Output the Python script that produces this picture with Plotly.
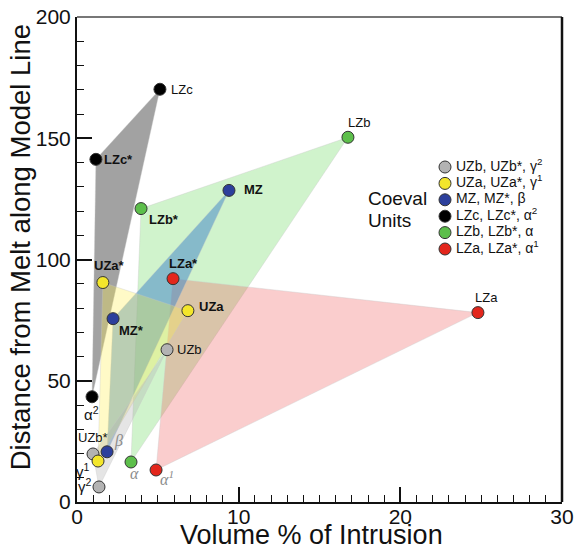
import plotly.graph_objects as go

# ---------------- data ----------------
units = ["UZb", "UZa", "MZ", "LZc", "LZb", "LZa"]
legend_labels = ["UZb, UZb*, γ<sup>2</sup>", "UZa, UZa*, γ<sup>1</sup>", "MZ, MZ*, β",
                 "LZc, LZc*, α<sup>2</sup>", "LZb, LZb*, α", "LZa, LZa*, α<sup>1</sup>"]
main_labels = ["UZb", "UZa", "MZ", "LZc", "LZb", "LZa"]
star_labels = ["UZb*", "UZa*", "MZ*", "LZc*", "LZb*", "LZa*"]
greek_labels = ["γ<sup>2</sup>", "γ<sup>1</sup>", "β", "α<sup>2</sup>", "α", "α<sup>1</sup>"]

x_main = [5.57, 6.86, 9.4, 5.13, 16.76, 24.8]
y_main = [62.8, 78.9, 128.5, 170.2, 150.4, 78.1]
x_star = [0.99, 1.6, 2.23, 1.17, 3.96, 5.94]
y_star = [19.8, 90.5, 75.6, 141.3, 121.0, 92.1]
x_greek = [1.36, 1.3, 1.86, 0.93, 3.34, 4.89]
y_greek = [6.2, 16.9, 20.7, 43.4, 16.5, 13.2]

x_title = "Volume % of Intrusion"
y_title = "Distance from Melt along Model Line"

# ---------------- styles ----------------
marker_colors = ["#b3b3b3", "#f3e62b", "#2c3f9c", "#000000", "#5dbf4b", "#e3261c"]
fill_colors = ["rgba(175,175,175,0.33)", "rgba(255,240,70,0.30)", "rgba(60,130,200,0.50)",
               "rgba(105,105,105,0.62)", "rgba(120,220,110,0.35)", "rgba(240,90,90,0.30)"]
poly_order = [3, 4, 5, 2, 1, 0]
FONT = "Liberation Sans, Arial, sans-serif"

# label placement: (xanchor, yanchor, xshift, yshift, flag)
main_pos = {"UZb": ("left", "middle", 8, 0, False), "UZa": ("left", "middle", 9, 4, True),
            "MZ": ("left", "middle", 13, 1, True), "LZc": ("left", "middle", 9, 0, False),
            "LZb": ("center", "bottom", 11, 5, False), "LZa": ("center", "bottom", 9, 6, False)}
star_pos = {"UZb*": ("center", "bottom", 0, 7, False), "UZa*": ("center", "bottom", 7, 8, True),
            "MZ*": ("left", "top", 4, -2, True), "LZc*": ("left", "middle", 6, 0, True),
            "LZb*": ("left", "top", 6, -1, True), "LZa*": ("center", "bottom", 10, 6, True)}
greek_pos = {0: ("right", "middle", -5, 1, False), 1: ("right", "top", -6, 2, False),
             2: ("left", "bottom", 5, 0, True), 3: ("center", "top", -1, -5, False),
             4: ("left", "top", -3, -1, True), 5: ("left", "top", 2, 4, True)}

fig = go.Figure()

# polygons
for i in poly_order:
    fig.add_trace(go.Scatter(
        x=[x_main[i], x_star[i], x_greek[i], x_main[i]],
        y=[y_main[i], y_star[i], y_greek[i], y_main[i]],
        mode="lines", fill="toself", fillcolor=fill_colors[i],
        line=dict(width=0.6, color="rgba(200,200,200,0.6)"),
        hoverinfo="skip", showlegend=False))

# points
for i in range(len(units)):
    fig.add_trace(go.Scatter(
        x=[x_main[i], x_star[i], x_greek[i]],
        y=[y_main[i], y_star[i], y_greek[i]],
        mode="markers",
        marker=dict(size=12, color=marker_colors[i], line=dict(width=1, color="#333333")),
        showlegend=False, name=units[i]))

annotations = []

def add_label(x, y, text, spec, size=13, grey_italic=False):
    xa, ya, xs, ys, flag = spec
    if grey_italic:
        t = "<i>" + text + "</i>"
        font = dict(family="Liberation Serif, Times New Roman, serif", size=16, color="#8c8c8c")
    else:
        t = "<b>" + text + "</b>" if flag else text
        font = dict(family=FONT, size=size, color="#111111")
    annotations.append(dict(x=x, y=y, xref="x", yref="y", text=t, showarrow=False,
                            xanchor=xa, yanchor=ya, xshift=xs, yshift=ys, font=font))

for i in range(len(units)):
    add_label(x_main[i], y_main[i], main_labels[i], main_pos[main_labels[i]])
    add_label(x_star[i], y_star[i], star_labels[i], star_pos[star_labels[i]])
    spec = greek_pos[i]
    add_label(x_greek[i], y_greek[i], greek_labels[i], spec, size=15, grey_italic=spec[4])

# legend drawn on an overlay pixel-like axis
leg_x0, leg_y0, leg_step = 445, 167, 16.4
leg_y = [leg_y0 + k * leg_step for k in range(len(units))]
fig.add_trace(go.Scatter(
    x=[leg_x0] * len(units), y=leg_y, xaxis="x2", yaxis="y2", mode="markers",
    marker=dict(size=12, color=marker_colors, line=dict(width=1, color="#333333")),
    showlegend=False, hoverinfo="skip", cliponaxis=False))
fig.add_trace(go.Scatter(
    x=[leg_x0 + 11] * len(units), y=leg_y, xaxis="x2", yaxis="y2",
    mode="text", text=legend_labels, textposition="middle right",
    textfont=dict(family=FONT, size=14, color="#111111"),
    showlegend=False, hoverinfo="skip", cliponaxis=False))

annotations.append(dict(x=366, y=198, xref="x2", yref="y2", text="Coeval", showarrow=False,
                        xanchor="left", yanchor="middle", font=dict(family=FONT, size=19, color="#111111")))
annotations.append(dict(x=366, y=220, xref="x2", yref="y2", text="Units", showarrow=False,
                        xanchor="left", yanchor="middle", font=dict(family=FONT, size=19, color="#111111")))

# axis titles
annotations.append(dict(x=0.484, y=-0.103, xref="paper", yref="paper", text=x_title, showarrow=False,
                        xanchor="center", yanchor="bottom",
                        font=dict(family=FONT, size=27, color="#111111")))
annotations.append(dict(x=-0.116, y=0.5247, xref="paper", yref="paper", text=y_title, showarrow=False,
                        xanchor="center", yanchor="middle", textangle=-90,
                        font=dict(family=FONT, size=27.5, color="#111111")))

fig.update_layout(
    width=576, height=553,
    margin=dict(l=77, r=14, t=17, b=51, autoexpand=False),
    paper_bgcolor="white", plot_bgcolor="white",
    font=dict(family=FONT, color="#111111"),
    annotations=annotations,
    xaxis=dict(range=[0, 30], dtick=10, tick0=0, ticks="inside", ticklen=15, tickwidth=1.5,
               tickcolor="#111111", showline=True, linewidth=2, linecolor="#111111",
               showgrid=False, zeroline=False, automargin=False,
               minor=dict(dtick=1, ticks="inside", ticklen=7, tickwidth=1.2, tickcolor="#111111"),
               tickfont=dict(size=21, family=FONT, color="#111111"), ticklabelstandoff=-5),
    yaxis=dict(range=[0, 200], dtick=50, tick0=0, ticks="inside", ticklen=15, tickwidth=1.5,
               tickcolor="#111111", showline=True, linewidth=2, linecolor="#111111", mirror=False,
               showgrid=False, zeroline=False, automargin=False,
               minor=dict(dtick=10, ticks="inside", ticklen=7, tickwidth=1.2, tickcolor="#111111"),
               tickfont=dict(size=21, family=FONT, color="#111111")),
    xaxis2=dict(range=[77, 562], overlaying="x", anchor="y2", visible=False, fixedrange=True),
    yaxis2=dict(range=[502, 17], overlaying="y", anchor="x2", visible=False, fixedrange=True),
    shapes=[
        dict(type="line", xref="paper", yref="paper", x0=0, x1=1, y0=1, y1=1,
             line=dict(color="#777777", width=2)),
        dict(type="line", xref="paper", yref="paper", x0=1, x1=1, y0=0, y1=1,
             line=dict(color="#111111", width=2.5)),
    ],
)

fig.write_html("out.html", config={"displayModeBar": False},
               post_script="document.body.style.margin='0px';document.body.style.overflow='hidden';")
